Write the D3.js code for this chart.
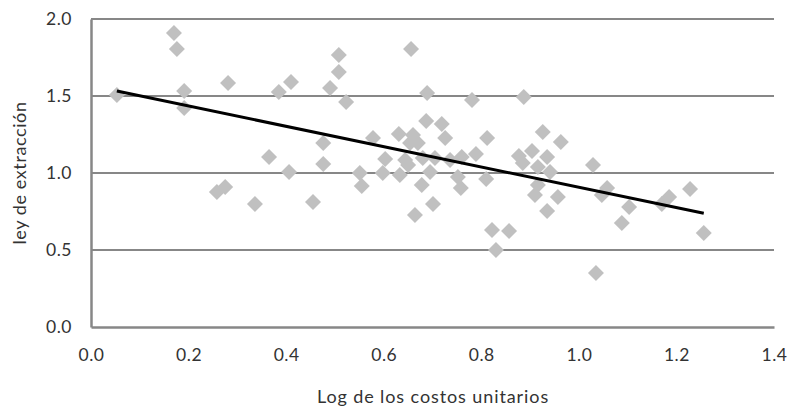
<!DOCTYPE html>
<html>
<head>
<meta charset="utf-8">
<script src="https://cdn.jsdelivr.net/npm/d3@7"></script>
<style>
  html, body { margin: 0; padding: 0; background: #fff; }
  svg { display: block; }
  text { font-family: Lato, "Open Sans", sans-serif; fill: #333; }
</style>
</head>
<body>
<svg id="chart" width="792" height="408"></svg>
<script>
// ---- data ----
const costLog = [0.053,0.170,0.176,0.191,0.191,0.281,0.258,0.275,0.336,0.365,0.385,0.410,0.406,0.455,0.476,0.476,0.490,0.508,0.508,0.523,0.551,0.555,0.578,0.598,0.603,0.631,0.633,0.644,0.650,0.654,0.660,0.670,0.656,0.664,0.680,0.678,0.687,0.689,0.695,0.701,0.705,0.719,0.726,0.736,0.752,0.760,0.758,0.781,0.789,0.810,0.812,0.822,0.857,0.830,0.877,0.885,0.887,0.904,0.916,0.926,0.935,0.941,0.916,0.910,0.935,0.957,0.963,1.029,1.035,1.058,1.047,1.103,1.088,1.185,1.170,1.228,1.256];
const extraction = [1.506,1.909,1.805,1.532,1.422,1.584,0.877,0.909,0.799,1.104,1.526,1.591,1.006,0.812,1.195,1.058,1.552,1.656,1.766,1.461,1.000,0.916,1.227,1.000,1.091,1.253,0.987,1.084,1.052,1.195,1.247,1.195,1.805,0.727,1.097,0.922,1.338,1.519,1.006,0.799,1.097,1.318,1.227,1.084,0.974,1.104,0.903,1.474,1.123,0.961,1.227,0.630,0.623,0.500,1.110,1.065,1.494,1.143,1.039,1.266,1.104,1.006,0.922,0.857,0.753,0.844,1.201,1.052,0.351,0.903,0.857,0.779,0.675,0.844,0.799,0.896,0.610];
const trendSlope = -0.66;
const trendIntercept = 1.567;
const xTicks = [0.0,0.2,0.4,0.6,0.8,1.0,1.2,1.4];
const yTicks = [0.0,0.5,1.0,1.5,2.0];
const xTitle = "Log de los costos unitarios";
const yTitle = "ley de extracción";

// ---- layout ----
const svg = d3.select("#chart");
const pLeft = 91, pRight = 774, pTop = 19, pBottom = 327;
const x = d3.scaleLinear().domain([0, 1.4]).range([pLeft, pRight]);
const y = d3.scaleLinear().domain([0, 2.0]).range([pBottom, pTop]);
const gridColor = "#878787";

// gridlines
svg.append("g").selectAll("line").data(yTicks.filter(d => d > 0)).join("line")
  .attr("x1", pLeft).attr("x2", pRight)
  .attr("y1", d => y(d)).attr("y2", d => y(d))
  .attr("stroke", gridColor).attr("stroke-width", 2);

// axes
const xAxis = svg.append("g").attr("transform", `translate(0,${pBottom})`)
  .call(d3.axisBottom(x).tickValues(xTicks).tickFormat(d3.format(".1f")).tickSize(0).tickPadding(22));
xAxis.select(".domain").attr("stroke", gridColor).attr("stroke-width", 2.5);
const yAxis = svg.append("g").attr("transform", `translate(${pLeft},0)`)
  .call(d3.axisLeft(y).tickValues(yTicks).tickFormat(d3.format(".1f")).tickSize(0).tickPadding(19));
yAxis.select(".domain").attr("stroke", gridColor).attr("stroke-width", 2.5);
svg.selectAll(".tick text").attr("font-size", 17.5).attr("fill", "#3a3a3a")
  .attr("letter-spacing", 0.5)
  .attr("font-family", "Lato, 'Open Sans', sans-serif");

// points
const pts = costLog.map((c, i) => ({ c, e: extraction[i] }));
const s = 8;
svg.append("g").selectAll("path").data(pts).join("path")
  .attr("d", d => {
    const px = x(d.c), py = y(d.e);
    return `M${px},${py - s}L${px + s},${py}L${px},${py + s}L${px - s},${py}Z`;
  })
  .attr("fill", "#c0c0c0");

// trend line
const xMin = d3.min(costLog), xMax = d3.max(costLog);
svg.append("line")
  .attr("x1", x(xMin)).attr("y1", y(trendIntercept + trendSlope * xMin))
  .attr("x2", x(xMax)).attr("y2", y(trendIntercept + trendSlope * xMax))
  .attr("stroke", "#000").attr("stroke-width", 3);

// titles
svg.append("text").attr("x", 433).attr("y", 403).attr("text-anchor", "middle")
  .attr("font-size", 18).attr("letter-spacing", 0.9).attr("fill", "#3a3a3a").text(xTitle);
svg.append("text").attr("transform", "translate(26,173) rotate(-90)")
  .attr("text-anchor", "middle").attr("font-size", 18).attr("letter-spacing", 0.6)
  .attr("fill", "#3a3a3a").text(yTitle);
</script>
</body>
</html>
